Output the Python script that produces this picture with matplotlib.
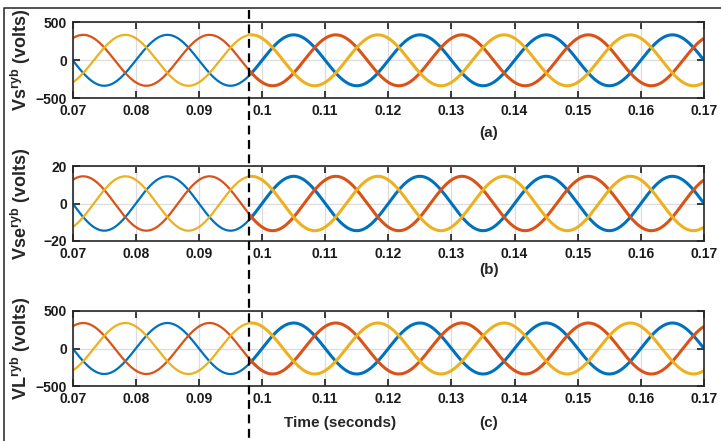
import numpy as np
import matplotlib
matplotlib.use("Agg")
import matplotlib.pyplot as plt
from matplotlib.lines import Line2D
import matplotlib.transforms as mtransforms

plt.rcParams['font.family'] = ['Liberation Sans', 'DejaVu Sans']
plt.rcParams['font.weight'] = 'bold'
plt.rcParams['mathtext.fontset'] = 'custom'
plt.rcParams['mathtext.rm'] = 'Liberation Sans:bold'
plt.rcParams['mathtext.bf'] = 'Liberation Sans:bold'

# three-phase waveforms
t_start, t_end = 0.07, 0.17
t_event = 0.098           # dashed marker
freq = 50.0               # Hz
phases_deg = [0, -120, 120]            # r (blue), y (red), b (yellow)
colors = ['#0072BD', '#D95319', '#EDB120']
panel_names = ['Vs', 'Vse', 'VL']
panel_tags = ['(a)', '(b)', '(c)']
amplitudes = [335, 14.5, 340]          # peak values per panel
ylims = [(-500, 500), (-20, 20), (-500, 500)]
yticks = [[-500, 0, 500], [-20, 0, 20], [-500, 0, 500]]
xticks = [0.07, 0.08, 0.09, 0.1, 0.11, 0.12, 0.13, 0.14, 0.15, 0.16, 0.17]
xticklabels = ['0.07', '0.08', '0.09', '0.1', '0.11', '0.12', '0.13', '0.14', '0.15', '0.16', '0.17']

fig = plt.figure(figsize=(7.21, 4.41), dpi=100)
W, H = 721.0, 441.0
left, right = 72.7 / W, 704.0 / W
tops = [22.3, 166.0, 311.0]
bottoms = [98.3, 241.0, 386.0]
tag_y = [133, 270, 423]

t = np.linspace(t_start, t_end, 4001)
axes = []
for i in range(3):
    ax = fig.add_axes([left, 1 - bottoms[i] / H, right - left, (bottoms[i] - tops[i]) / H])
    axes.append(ax)
    for ph, c in zip(phases_deg, colors):
        v = amplitudes[i] * np.sin(2 * np.pi * freq * t + np.deg2rad(ph))
        pre = t <= t_event
        ax.plot(t[pre], v[pre], color=c, lw=1.6, solid_capstyle='butt')
        ax.plot(t[~pre], v[~pre], color=c, lw=2.2, solid_capstyle='butt')
    ax.set_xlim(t_start, t_end)
    ax.set_ylim(*ylims[i])
    ax.set_yticks(yticks[i])
    ax.set_xticks(xticks)
    ax.set_xticklabels(xticklabels)
    ax.grid(True, color='#dcdcdc', lw=0.9)
    ax.set_axisbelow(True)
    ax.tick_params(direction='in', top=True, right=True, length=5, width=1.2,
                   labelsize=10, pad=4, colors='#1a1a1a')
    for s in ax.spines.values():
        s.set_linewidth(1.2)
        s.set_color('#262626')
    ax.set_ylabel(panel_names[i] + r'$^{\mathbf{ryb}}$ (volts)', fontsize=13,
                  fontweight='bold', color='#262626')
    ax.yaxis.set_label_coords(-0.063, 0.5)
    fig.text(489 / W, 1 - tag_y[i] / H, panel_tags[i], ha='center', va='center',
             fontsize=11, fontweight='bold', color='#262626')

fig.text(340 / W, 1 - 423 / H, 'Time (seconds)', ha='center', va='center',
         fontsize=11, fontweight='bold', color='#262626')

# dashed event marker across the whole figure
trans = mtransforms.blended_transform_factory(axes[0].transData, fig.transFigure)
fig.add_artist(Line2D([t_event, t_event], [1 - 10 / H, 1 - 439 / H], transform=trans,
                      color='black', lw=1.6, ls=(0, (4, 2.5))))

# outer frame (top and left)
fig.add_artist(Line2D([4 / W, 4 / W, 1.0], [0.0, 1 - 8 / H, 1 - 8 / H],
                      transform=fig.transFigure, color='#333333', lw=1.2))

fig.savefig('out.png', dpi=100)
